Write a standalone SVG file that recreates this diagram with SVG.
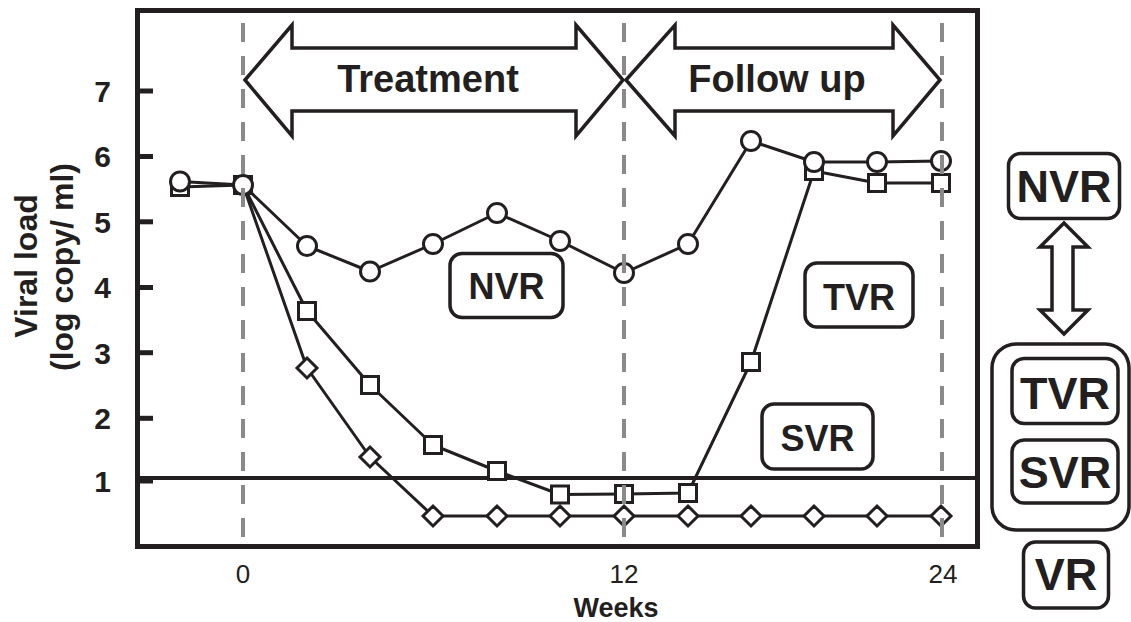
<svg xmlns="http://www.w3.org/2000/svg" width="1131" height="622" viewBox="0 0 1131 622">
<style>
.frame{fill:none;stroke:#231f20;stroke-width:5}
.tick{stroke:#231f20;stroke-width:5}
.thr{stroke:#231f20;stroke-width:4}
.grid{stroke:#8a8a8a;stroke-width:4;stroke-dasharray:19 14}
.ser{fill:none;stroke:#231f20;stroke-width:3;stroke-linejoin:round}
.mk{fill:#fff;stroke:#231f20;stroke-width:3}
.arrow{fill:#fff;stroke:#231f20;stroke-width:3.5;stroke-linejoin:miter}
.box{fill:#fff;stroke:#231f20;stroke-width:3.5}
.b{font-family:"Liberation Sans",Arial,sans-serif;font-weight:bold;fill:#231f20}
.r{font-family:"Liberation Sans",Arial,sans-serif;fill:#231f20}
</style>
<defs>
<circle id="c" r="9.5" class="mk"/>
<rect id="s" x="-8.5" y="-8.5" width="17" height="17" class="mk"/>
<polygon id="d" points="0,-10 10,0 0,10 -10,0" class="mk"/>
</defs>
<g id="axes">
<rect class="frame" x="137.5" y="10.5" width="840" height="536"/>
<g class="tick">
<line x1="137" y1="91" x2="153" y2="91"/>
<line x1="137" y1="156.5" x2="153" y2="156.5"/>
<line x1="137" y1="221.8" x2="153" y2="221.8"/>
<line x1="137" y1="287.5" x2="153" y2="287.5"/>
<line x1="137" y1="352.7" x2="153" y2="352.7"/>
<line x1="137" y1="418.3" x2="153" y2="418.3"/>
<line x1="137" y1="481" x2="153" y2="481"/>
</g>
<g class="b" font-size="30" text-anchor="end">
<text x="111" y="102">7</text>
<text x="111" y="167">6</text>
<text x="111" y="232.5">5</text>
<text x="111" y="298">4</text>
<text x="111" y="363.5">3</text>
<text x="111" y="429">2</text>
<text x="111" y="492">1</text>
</g>
<g class="r" font-size="26" text-anchor="middle">
<text x="243" y="583">0</text>
<text x="624" y="583">12</text>
<text x="943" y="583">24</text>
</g>
<text class="b" font-size="27" text-anchor="middle" x="616" y="617">Weeks</text>
<text class="b" font-size="32" text-anchor="middle" transform="translate(37,266) rotate(-90)">Viral load</text>
<text class="b" font-size="32" text-anchor="middle" transform="translate(73,267) rotate(-90)">(log copy/ ml)</text>
<line class="thr" x1="137" y1="478" x2="978" y2="478"/>
</g>
<g id="connectors">
<polyline class="ser" points="180,181.5 243,185 307,246 370,271.5 433,244 497,213 560,241 624,273 688,244 751,141 814,162 877,162 941,161"/>
<polyline class="ser" points="180,187 243,185 307,311 370,385 433,445 497,471 560,494.5 624,494 688,493 751,362 814,171 877,183 941,183"/>
<polyline class="ser" points="243,185 307,368 370,457 433,516 497,516 560,516 624,516 688,516 751,516 814,516 877,516 941,516"/>
</g>
<g id="diamonds">
<use href="#d" x="307" y="368"/><use href="#d" x="370" y="457"/><use href="#d" x="433" y="516"/><use href="#d" x="497" y="516"/><use href="#d" x="560" y="516"/><use href="#d" x="624" y="516"/><use href="#d" x="688" y="516"/><use href="#d" x="751" y="516"/><use href="#d" x="814" y="516"/><use href="#d" x="877" y="516"/><use href="#d" x="941" y="516"/>
</g>
<g id="squares">
<use href="#s" x="180" y="187"/><use href="#s" x="243" y="185"/><use href="#s" x="307" y="311"/><use href="#s" x="370" y="385"/><use href="#s" x="433" y="445"/><use href="#s" x="497" y="471"/><use href="#s" x="560" y="494.5"/><use href="#s" x="624" y="494"/><use href="#s" x="688" y="493"/><use href="#s" x="751" y="362"/><use href="#s" x="814" y="171"/><use href="#s" x="877" y="183"/><use href="#s" x="941" y="183"/>
</g>
<g id="circles">
<use href="#c" x="180" y="181.5"/><use href="#c" x="243" y="185"/><use href="#c" x="307" y="246"/><use href="#c" x="370" y="271.5"/><use href="#c" x="433" y="244"/><use href="#c" x="497" y="213"/><use href="#c" x="560" y="241"/><use href="#c" x="624" y="273"/><use href="#c" x="688" y="244"/><use href="#c" x="751" y="141"/><use href="#c" x="814" y="162"/><use href="#c" x="877" y="162"/><use href="#c" x="941" y="161"/>
</g>
<g id="gridlines">
<line class="grid" x1="243" y1="23" x2="243" y2="545"/>
<line class="grid" x1="624" y1="23" x2="624" y2="545"/>
<line class="grid" x1="942" y1="23" x2="942" y2="545"/>
</g>
<g id="treatment">
<polygon class="arrow" points="245,80 292,25 292,48 576,48 576,25 623,80 576,136 576,111 292,111 292,136"/>
<text class="b" font-size="38" text-anchor="middle" x="428" y="92">Treatment</text>
</g>
<g id="followup">
<polygon class="arrow" points="626,80 675,25 675,48 893,48 893,25 940,80 893,136 893,111 675,111 675,136"/>
<text class="b" font-size="38" text-anchor="middle" x="777" y="92">Follow up</text>
</g>
<g id="nvr-plot">
<rect class="box" x="450" y="253.5" width="113" height="64" rx="12"/>
<text class="b" font-size="36" text-anchor="middle" x="506.5" y="298.5">NVR</text>
</g>
<g id="tvr-plot">
<rect class="box" x="805" y="263" width="108" height="64" rx="12"/>
<text class="b" font-size="36" text-anchor="middle" x="859" y="310">TVR</text>
</g>
<g id="svr-plot">
<rect class="box" x="762" y="404" width="111" height="65" rx="12"/>
<text class="b" font-size="36" text-anchor="middle" x="817.5" y="450.5">SVR</text>
</g>
<g id="nvr-legend">
<rect class="box" x="1008.5" y="153.5" width="111" height="65" rx="12"/>
<text class="b" font-size="45" text-anchor="middle" x="1064" y="202">NVR</text>
</g>
<g id="legend-arrow">
<polygon class="arrow" stroke-width="4" points="1064,223 1088,247 1073,247 1073,310 1088,310 1064,334 1040,310 1052,310 1052,247 1040,247"/>
</g>
<g id="vr-group">
<rect class="box" stroke-width="4" x="992" y="344" width="137" height="186" rx="24"/>
<g id="tvr-legend">
<rect class="box" x="1012" y="358.5" width="106" height="65" rx="12"/>
<text class="b" font-size="45" text-anchor="middle" x="1065" y="409">TVR</text>
</g>
<g id="svr-legend">
<rect class="box" x="1012" y="440" width="106" height="63" rx="12"/>
<text class="b" font-size="45" text-anchor="middle" x="1065" y="488">SVR</text>
</g>
</g>
<g id="vr-legend">
<rect class="box" x="1023.5" y="542" width="85" height="66" rx="12"/>
<text class="b" font-size="45" text-anchor="middle" x="1066" y="590">VR</text>
</g>
</svg>
